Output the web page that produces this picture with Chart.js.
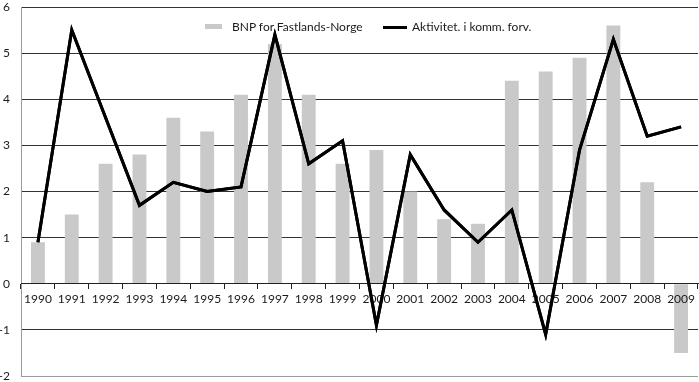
<!DOCTYPE html>
<html>
<head>
<meta charset="utf-8">
<script src="https://cdn.jsdelivr.net/npm/chart.js@4/dist/chart.umd.min.js"></script>
<style>
  html, body { margin: 0; padding: 0; background: #fff; }
  #wrap { position: relative; width: 699px; height: 382px; }
  #legend { position: absolute; left: 0; top: 0; width: 699px; height: 60px; font-family: Lato, "Open Sans", sans-serif; font-size: 12px; color: #1a1a1a; }
  .sw { position: absolute; }
  .lbl { position: absolute; line-height: 14px; white-space: nowrap; }
</style>
</head>
<body>
<div id="wrap">
  <canvas id="c" width="699" height="382"></canvas>
  <div id="legend"></div>
</div>
<script>
const years = ["1990","1991","1992","1993","1994","1995","1996","1997","1998","1999",
               "2000","2001","2002","2003","2004","2005","2006","2007","2008","2009"];
const bnpFastland = [0.9, 1.5, 2.6, 2.8, 3.6, 3.3, 4.1, 5.2, 4.1, 2.6,
                     2.9, 2.0, 1.4, 1.3, 4.4, 4.6, 4.9, 5.6, 2.2, -1.5];
const aktivitetKomm = [0.9, 5.5, 3.6, 1.7, 2.2, 2.0, 2.1, 5.4, 2.6, 3.1,
                       -0.9, 2.8, 1.6, 0.9, 1.6, -1.1, 2.9, 5.3, 3.2, 3.4];
const yTicks = [-2, -1, 0, 1, 2, 3, 4, 5, 6];
const seriesNames = ["BNP for Fastlands-Norge", "Aktivitet. i komm. forv."];

const FONT = "Lato, 'Open Sans', sans-serif";

// Redraw the line on top of the x-axis labels (labels sit above bars, line above labels)
const lineOnTop = {
  id: 'lineOnTop',
  afterDraw(chart) {
    const meta = chart.getDatasetMeta(1);
    if (meta && meta.controller) meta.controller.draw();
  }
};

const chart = new Chart(document.getElementById('c'), {
  type: 'bar',
  data: {
    labels: years,
    datasets: [
      {
        type: 'bar',
        label: seriesNames[0],
        data: bnpFastland,
        backgroundColor: '#c9c9c9',
        borderWidth: 0,
        categoryPercentage: 1.0,
        barPercentage: 0.41,
        order: 2
      },
      {
        type: 'line',
        label: seriesNames[1],
        data: aktivitetKomm,
        borderColor: '#000000',
        borderWidth: 3,
        pointRadius: 0,
        tension: 0,
        borderJoinStyle: 'miter',
        fill: false,
        order: 1
      }
    ]
  },
  plugins: [lineOnTop],
  options: {
    responsive: false,
    animation: false,
    layout: { padding: { top: 7, bottom: 6, left: 0, right: 1 } },
    plugins: {
      legend: { display: false },
      tooltip: { enabled: false }
    },
    scales: {
      x: {
        position: { y: 0 },
        offset: true,
        afterFit: (scale) => {
          scale.height = 0;
          scale.paddingLeft = 0; scale.paddingRight = 0;
          scale.paddingTop = 0; scale.paddingBottom = 0;
        },
        grid: {
          offset: true,
          drawOnChartArea: false,
          drawTicks: true,
          tickLength: 5,
          color: '#222',
          z: 1
        },
        border: { display: true, color: '#222', width: 1, z: 1 },
        ticks: {
          color: '#1a1a1a',
          font: { family: FONT, size: 12 },
          padding: 3,
          maxRotation: 0,
          autoSkip: false,
          z: 1
        }
      },
      y: {
        min: -2,
        max: 6,
        afterBuildTicks: (scale) => { scale.ticks = yTicks.map(v => ({ value: v })); },
        afterFit: (scale) => {
          scale.width = 21;
          scale.paddingTop = 0; scale.paddingBottom = 0;
        },
        grid: {
          drawTicks: false,
          color: (ctx) => (ctx.tick && ctx.tick.value === -2) ? '#9a9a9a' : '#333333',
          lineWidth: 1
        },
        border: { display: true, color: '#9a9a9a', width: 1 },
        ticks: {
          color: '#1a1a1a',
          font: { family: FONT, size: 12 },
          padding: 11
        }
      }
    }
  }
});

// HTML legend built from dataset labels
const leg = document.getElementById('legend');
const items = [
  { name: chart.data.datasets[0].label, sw: { left: 205, top: 24, width: 17, height: 5, bg: '#c9c9c9' }, textLeft: 232 },
  { name: chart.data.datasets[1].label, sw: { left: 383, top: 26, width: 24, height: 3, bg: '#000' }, textLeft: 412 }
];
items.forEach(it => {
  const s = document.createElement('div');
  s.className = 'sw';
  s.style.left = it.sw.left + 'px';
  s.style.top = it.sw.top + 'px';
  s.style.width = it.sw.width + 'px';
  s.style.height = it.sw.height + 'px';
  s.style.background = it.sw.bg;
  leg.appendChild(s);
  const t = document.createElement('div');
  t.className = 'lbl';
  t.style.left = it.textLeft + 'px';
  t.style.top = '20px';
  t.textContent = it.name;
  leg.appendChild(t);
});
</script>
</body>
</html>
